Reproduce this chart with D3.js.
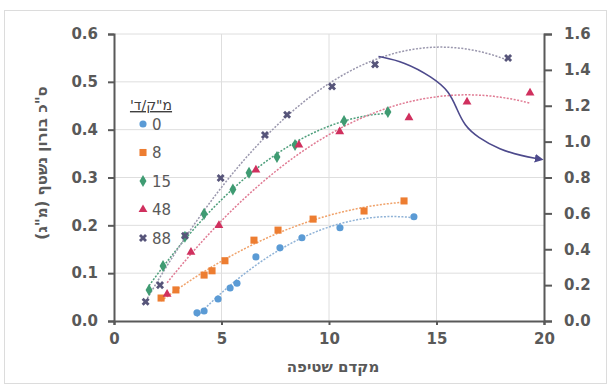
<!DOCTYPE html>
<html>
<head>
<meta charset="utf-8">
<script src="https://cdn.jsdelivr.net/npm/d3@7"></script>
<style>
  body { margin: 0; background: #fff; }
  text { font-family: "DejaVu Sans", sans-serif; }
</style>
</head>
<body>
<div id="chart-area"></div>
<script>
// data: [mekadem shtifa, boron (mg)]
const series0 = [[3.86,0.017],[4.19,0.021],[4.84,0.046],[5.40,0.069],[5.72,0.079],[6.60,0.134],[7.72,0.153],[8.74,0.174],[10.51,0.195],[13.95,0.218]];
const series8 = [[2.19,0.048],[2.88,0.065],[4.19,0.096],[4.56,0.105],[5.16,0.126],[6.51,0.169],[7.63,0.190],[9.26,0.213],[11.63,0.230],[13.49,0.251]];
const series15 = [[1.63,0.065],[2.28,0.115],[3.30,0.176],[4.19,0.224],[5.53,0.275],[6.28,0.310],[7.58,0.343],[8.42,0.368],[10.70,0.418],[12.74,0.437]];
const series48 = [[2.47,0.056],[3.58,0.144],[4.88,0.200],[6.60,0.316],[8.60,0.368],[10.50,0.396],[13.72,0.425],[16.42,0.458],[19.35,0.477]];
const series88 = [[1.47,0.040],[2.14,0.075],[3.30,0.178],[4.96,0.299],[7.02,0.389],[8.05,0.431],[10.14,0.490],[12.14,0.536],[18.33,0.550]];
// curved arrow, values on the right axis
const arrowPts = [[12.3,1.475],[13.5,1.445],[14.8,1.36],[15.6,1.28],[15.95,1.18],[16.3,1.09],[16.9,1.025],[17.95,0.955],[19.0,0.92],[19.7,0.905]];

const seriesNames = ["0", "8", "15", "48", "88"];
const seriesData = [series0, series8, series15, series48, series88];
const colors = ["#5b9bd5", "#ed7d31", "#3f9b72", "#d0305e", "#57557a"];
const trendColors = ["#8fb2d6", "#f0a26a", "#4f9f7c", "#e07a93", "#9a97ad"];
const symbols = [d3.symbolCircle, d3.symbolSquare, d3.symbolDiamond, d3.symbolTriangle, d3.symbolCross];
const symbolSizes = [40, 50, 42, 34, 40];

const leftTicks = [0, 0.1, 0.2, 0.3, 0.4, 0.5, 0.6];
const rightTicks = [0, 0.2, 0.4, 0.6, 0.8, 1.0, 1.2, 1.4, 1.6];
const xTicks = [0, 5, 10, 15, 20];

const margin = { left: 114, right: 69, top: 34, bottom: 63 };
const W = 613, H = 384;
const width = W - margin.left - margin.right;
const height = H - margin.top - margin.bottom;

const svg = d3.select("#chart-area").append("svg")
  .attr("width", W).attr("height", H);

// outer frame
svg.append("rect")
  .attr("x", 4.5).attr("y", 10.5).attr("width", 602).attr("height", 373)
  .attr("fill", "none").attr("stroke", "#dcdcdc");

const g = svg.append("g")
  .attr("transform", "translate(" + margin.left + "," + margin.top + ")");

const x = d3.scaleLinear().domain([0, 20]).range([0, width]);
const y = d3.scaleLinear().domain([0, 0.6]).range([height, 0]);
const y2 = d3.scaleLinear().domain([0, 1.6]).range([height, 0]);

// gridlines
g.selectAll(".hgrid").data(leftTicks.slice(1)).enter().append("line")
  .attr("x1", 0).attr("x2", width)
  .attr("y1", d => y(d)).attr("y2", d => y(d))
  .attr("stroke", "#dedede").attr("stroke-width", 1);
g.selectAll(".vgrid").data(xTicks.slice(1, -1)).enter().append("line")
  .attr("x1", d => x(d)).attr("x2", d => x(d))
  .attr("y1", 0).attr("y2", height)
  .attr("stroke", "#dedede").attr("stroke-width", 1);

// axes
const xAxisCall = d3.axisBottom(x).tickValues(xTicks).tickSize(4).tickPadding(8);
const yAxisCall = d3.axisLeft(y).tickValues(leftTicks).tickFormat(d3.format(".1f")).tickSize(6).tickPadding(10);
const y2AxisCall = d3.axisRight(y2).tickValues(rightTicks).tickFormat(d3.format(".1f")).tickSize(8).tickPadding(12);

function styleAxis(sel) {
  sel.select(".domain").attr("stroke", "#595959").attr("stroke-width", 2);
  sel.selectAll(".tick line").attr("stroke", "#595959").attr("stroke-width", 2);
  sel.selectAll(".tick text").attr("fill", "#595959")
    .attr("font-size", "15px").attr("font-weight", "bold");
}

g.append("g").attr("class", "x axis")
  .attr("transform", "translate(0," + height + ")")
  .call(xAxisCall).call(styleAxis);
g.append("g").attr("class", "y axis").call(yAxisCall).call(styleAxis);
g.append("g").attr("class", "y2 axis")
  .attr("transform", "translate(" + width + ",0)")
  .call(y2AxisCall).call(styleAxis);

// axis titles
svg.append("text")
  .attr("x", 333).attr("y", 372)
  .attr("text-anchor", "middle").attr("font-size", "15px").attr("font-weight", "bold")
  .attr("fill", "#595959")
  .text("מקדם שטיפה");
svg.append("text")
  .attr("transform", "translate(47,163) rotate(-90)")
  .attr("text-anchor", "middle").attr("font-size", "15px").attr("font-weight", "bold")
  .attr("fill", "#595959")
  .text("ס\"כ בורון נשטף (מ\"ג)");

// quadratic least squares, like the spreadsheet trendline
function polyFit(pts) {
  let s = [0, 0, 0, 0, 0], t = [0, 0, 0];
  pts.forEach(p => {
    for (let k = 0; k < 5; k++) s[k] += Math.pow(p[0], k);
    for (let k = 0; k < 3; k++) t[k] += p[1] * Math.pow(p[0], k);
  });
  const A = [[s[0], s[1], s[2], t[0]], [s[1], s[2], s[3], t[1]], [s[2], s[3], s[4], t[2]]];
  for (let i = 0; i < 3; i++) {
    for (let j = i + 1; j < 3; j++) {
      const f = A[j][i] / A[i][i];
      for (let k = i; k < 4; k++) A[j][k] -= f * A[i][k];
    }
  }
  const c = [0, 0, 0];
  for (let i = 2; i >= 0; i--) {
    let v = A[i][3];
    for (let k = i + 1; k < 3; k++) v -= A[i][k] * c[k];
    c[i] = v / A[i][i];
  }
  return c;
}

const line = d3.line().x(d => x(d[0])).y(d => y(d[1]));

seriesData.forEach(function(data, i) {
  const c = polyFit(data);
  const ext = d3.extent(data, d => d[0]);
  const trend = d3.range(0, 61).map(k => {
    const xv = ext[0] + (ext[1] - ext[0]) * k / 60;
    return [xv, c[0] + c[1] * xv + c[2] * xv * xv];
  });
  g.append("path")
    .datum(trend)
    .attr("d", line)
    .attr("fill", "none")
    .attr("stroke", trendColors[i])
    .attr("stroke-width", 1.5)
    .attr("stroke-dasharray", "2,1.5");
});

seriesData.forEach(function(data, i) {
  g.selectAll(".pt" + i).data(data).enter().append("path")
    .attr("class", "pt" + i)
    .attr("d", d3.symbol().type(symbols[i]).size(symbolSizes[i]))
    .attr("transform", d => "translate(" + x(d[0]) + "," + y(d[1]) + ")" + (i === 4 ? " rotate(45)" : ""))
    .attr("fill", colors[i]);
});

// arrow on the right axis
svg.append("defs").append("marker")
  .attr("id", "arrowhead")
  .attr("viewBox", "0 0 10 10")
  .attr("refX", 3).attr("refY", 5)
  .attr("markerWidth", 5.5).attr("markerHeight", 5.5)
  .attr("orient", "auto")
  .append("path").attr("d", "M0,0 L10,5 L0,10 z").attr("fill", "#4d4a8c");

g.append("path")
  .datum(arrowPts)
  .attr("d", d3.line().x(d => x(d[0])).y(d => y2(d[1])).curve(d3.curveBasis))
  .attr("fill", "none")
  .attr("stroke", "#4d4a8c")
  .attr("stroke-width", 1.6)
  .attr("marker-end", "url(#arrowhead)");

// legend
const legend = svg.append("g").attr("class", "legend");
legend.append("text")
  .attr("x", 151).attr("y", 110)
  .attr("text-anchor", "middle").attr("font-size", "14px")
  .attr("fill", "#404040").attr("text-decoration", "underline")
  .attr("direction", "rtl").attr("unicode-bidi", "embed")
  .text("מ\"ק/ד'");
seriesNames.forEach(function(name, i) {
  const row = legend.append("g")
    .attr("transform", "translate(143," + (124 + i * 28.5) + ")");
  row.append("path")
    .attr("d", d3.symbol().type(symbols[i]).size(symbolSizes[i]))
    .attr("transform", i === 4 ? "rotate(45)" : null)
    .attr("fill", colors[i]);
  row.append("text")
    .attr("x", 9).attr("y", 5.5)
    .attr("font-size", "15px").attr("fill", "#595959")
    .text(name);
});
</script>
</body>
</html>
